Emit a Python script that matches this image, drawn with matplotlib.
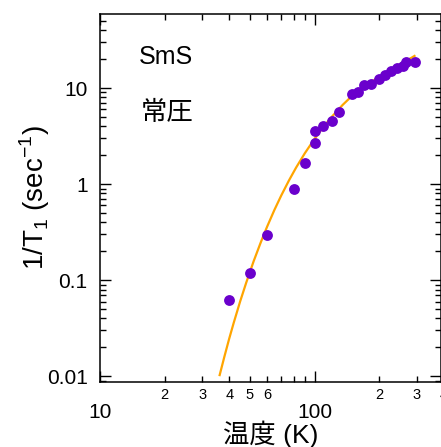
import matplotlib
matplotlib.use("Agg")
import matplotlib.pyplot as plt
from matplotlib.ticker import FixedLocator, NullFormatter, FuncFormatter

plt.rcParams['font.family'] = ['Liberation Sans', 'Noto Sans CJK JP', 'DejaVu Sans']
plt.rcParams['mathtext.fontset'] = 'custom'
plt.rcParams['mathtext.rm'] = 'Liberation Sans'
plt.rcParams['axes.unicode_minus'] = True

# measured data points
temps = [40, 50, 60, 80, 90, 100, 100, 109, 120, 130, 150, 160, 170, 183,
         200, 212, 227, 242, 257, 266, 294]
rates = [0.062, 0.12, 0.294, 0.89, 1.65, 2.71, 3.56, 4.05, 4.57, 5.7, 8.72,
         9.15, 10.8, 11.0, 12.4, 13.8, 15.2, 16.2, 17.1, 18.9, 18.9]

# fitted curve
curve_t = [36.1, 38, 40, 42, 45, 48, 52, 56, 60, 65, 70, 76, 82, 90, 100,
           110, 120, 135, 150, 170, 200, 230, 260, 292]
curve_r = [0.0103, 0.0161, 0.0247, 0.0362, 0.0604, 0.0943, 0.158, 0.245,
           0.359, 0.541, 0.767, 1.097, 1.489, 2.096, 2.97, 3.955, 5.0, 6.67,
           8.37, 10.5, 13.0, 15.8, 18.5, 21.6]

x_major = [10, 100]
x_minor = [20, 30, 40, 50, 60, 70, 80, 90, 200, 300, 400]
x_minor_labels = {20: '2', 30: '3', 40: '4', 50: '5', 60: '6', 200: '2', 300: '3'}

fig = plt.figure(figsize=(4.41, 4.47), dpi=100)
ax = fig.add_axes([100/441, (447-382)/447, 341/441, 368/447])

ax.plot(curve_t, curve_r, color='#FFA500', lw=1.6, zorder=2)
ax.plot(temps, rates, 'o', color='#6A00CC', ms=7.8, mec='none', zorder=3)

ax.set_xscale('log')
ax.set_yscale('log')
ax.set_xlim(10, 388)
ax.set_ylim(0.00873, 59)

ax.xaxis.set_major_locator(FixedLocator(x_major))
ax.xaxis.set_minor_locator(FixedLocator(x_minor))
ax.xaxis.set_major_formatter(FuncFormatter(lambda v, p: '%d' % round(v)))
ax.xaxis.set_minor_formatter(FuncFormatter(lambda v, p: x_minor_labels.get(int(round(v)), '')))

ax.yaxis.set_major_formatter(FuncFormatter(lambda v, p: ('%g' % v)))
ax.yaxis.set_minor_formatter(NullFormatter())

for s in ax.spines.values():
    s.set_linewidth(1.1)

ax.tick_params(which='both', direction='in', top=True, right=True, width=1.0)
ax.tick_params(which='major', length=8)
ax.tick_params(which='minor', length=4)
ax.tick_params(axis='x', which='major', labelsize=15, pad=15)
ax.tick_params(axis='x', which='minor', labelsize=10.5, pad=4)
ax.tick_params(axis='y', which='major', labelsize=15, pad=9)

ax.annotate('4', xy=(400, 0), xycoords=('data', 'axes fraction'),
            xytext=(0, -4), textcoords='offset points', ha='center', va='top',
            fontsize=10.5, annotation_clip=False)

ax.set_xlabel('温度 (K)', fontsize=19, labelpad=-1)
ax.set_ylabel('1/T$_\\mathregular{1}$ (sec$^\\mathregular{-1}$)', fontsize=20, labelpad=-4)

ax.text(0.194, 0.883, 'SmS', transform=ax.transAxes, fontsize=18,
        ha='center', va='center')
ax.text(0.197, 0.731, '常圧', transform=ax.transAxes, fontsize=19,
        ha='center', va='center')

fig.savefig('out.png', dpi=100)
